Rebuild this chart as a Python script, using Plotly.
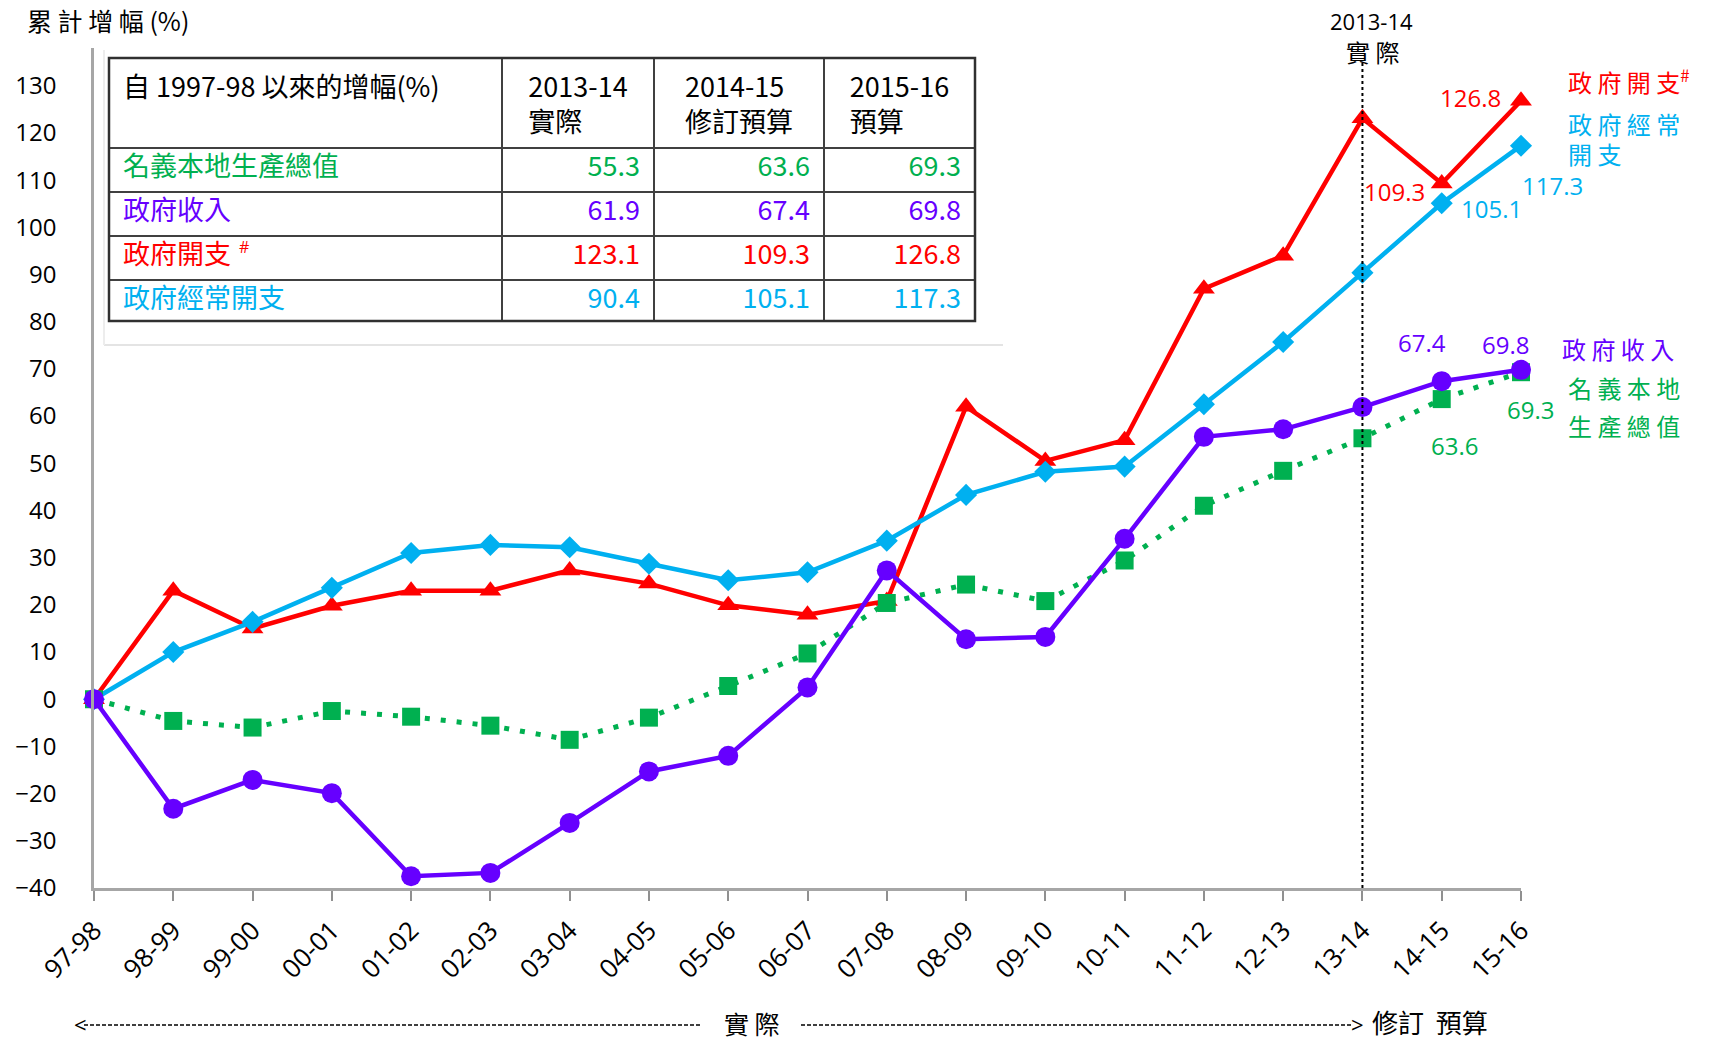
import plotly.graph_objects as go

years = ["97-98", "98-99", "99-00", "00-01", "01-02", "02-03", "03-04", "04-05", "05-06",
         "06-07", "07-08", "08-09", "09-10", "10-11", "11-12", "12-13", "13-14", "14-15", "15-16"]

gov_expenditure = [0, 23.0, 15.0, 19.8, 23.0, 23.0, 27.3, 24.5, 19.9, 17.9, 20.8, 62.0, 50.5,
                   54.9, 87.0, 94.0, 123.1, 109.3, 126.8]
gov_recurrent = [0, 10.0, 16.4, 23.6, 31.0, 32.7, 32.2, 28.7, 25.2, 26.9, 33.6, 43.3, 48.2,
                 49.3, 62.5, 75.7, 90.4, 105.1, 117.3]
gov_revenue = [0, -23.2, -17.1, -19.9, -37.5, -36.8, -26.2, -15.3, -12.0, 2.5, 27.3, 12.7, 13.2,
               34.0, 55.6, 57.2, 61.9, 67.4, 69.8]
nominal_gdp = [0, -4.6, -6.0, -2.5, -3.7, -5.6, -8.6, -3.9, 2.8, 9.7, 20.4, 24.3, 20.8,
               29.4, 41.0, 48.4, 55.3, 63.6, 69.3]

table_header = ["自 1997-98 以來的增幅(%)", "2013-14<br>實際", "2014-15<br>修訂預算", "2015-16<br>預算"]
table_rows = ["名義本地生產總值", "政府收入", "政府開支", "政府經常開支"]

RED = "#FF0000"
CYAN = "#00B0F0"
PURPLE = "#6600FF"
GREEN = "#00B050"
CJK = "Noto Sans CJK TC"
NUM = "Open Sans"

# the page's body margin is removed below, so positions are screen pixels
W, H = 1714, 1041
X0, X1 = 94, 1521      # screen x of plot area
Y0, Y1 = 48, 888       # screen y of plot area (top, bottom)
ML, MT = X0, Y0
MR, MB = W - X1, H - Y1
PW, PH = X1 - X0, Y1 - Y0


def px(x):
    return (x - X0) / PW


def py(y):
    return (Y1 - y) / PH


fig = go.Figure()

fig.add_trace(go.Scatter(x=years, y=gov_expenditure, mode="lines+markers", name="政府開支",
                         line=dict(color=RED, width=4.5),
                         marker=dict(symbol="triangle-up", size=19, color=RED), cliponaxis=False))
fig.add_trace(go.Scatter(x=years, y=gov_recurrent, mode="lines+markers", name="政府經常開支",
                         line=dict(color=CYAN, width=4.5),
                         marker=dict(symbol="diamond", size=17, color=CYAN), cliponaxis=False))
fig.add_trace(go.Scatter(x=years, y=nominal_gdp, mode="lines+markers", name="名義本地生產總值",
                         line=dict(color=GREEN, width=5, dash="5px,11px"),
                         marker=dict(symbol="square", size=18, color=GREEN), cliponaxis=False))
fig.add_trace(go.Scatter(x=years, y=gov_revenue, mode="lines+markers", name="政府收入",
                         line=dict(color=PURPLE, width=4.5),
                         marker=dict(symbol="circle", size=20, color=PURPLE), cliponaxis=False))

# table built from the last three values of each series
series_for_table = [nominal_gdp, gov_revenue, gov_expenditure, gov_recurrent]
row_colors = [GREEN, PURPLE, RED, CYAN]
cols = [[" " + r for r in table_rows]]
for k in (-3, -2, -1):
    cols.append([f"{s[k]:.1f} " for s in series_for_table])

TL, TR, TT, TB = 109, 975, 58, 321
fig.add_trace(go.Table(
    domain=dict(x=[px(TL), px(TR)], y=[py(TB), py(TT)]),
    columnwidth=[393, 152, 170, 151],
    header=dict(values=[" " + table_header[0] + "<br> "] + table_header[1:],
                align=["left", "center", "center", "center"],
                height=87, fill_color="white",
                line=dict(color="#404040", width=1.5),
                font=dict(family=CJK, size=27, color="black")),
    cells=dict(values=cols, align=["left", "right", "right", "right"],
               height=44, fill_color="white",
               line=dict(color="#404040", width=1.5),
               font=dict(family=CJK, size=27, color=[row_colors] * 4)),
))

shapes = [
    dict(type="rect", xref="paper", yref="paper", x0=px(TL), x1=px(TR), y0=py(TB), y1=py(TT),
         line=dict(color="#303030", width=2.5)),
    dict(type="line", xref="paper", yref="paper", x0=px(104), x1=px(1003), y0=py(345), y1=py(345),
         line=dict(color="#E4E4E4", width=2)),
    dict(type="line", xref="paper", yref="paper", x0=px(104), x1=px(104), y0=py(50), y1=py(345),
         line=dict(color="#EDEDED", width=2)),
    # vertical dotted line at 13-14
    dict(type="line", xref="x", yref="paper", x0=16, x1=16, y0=0, y1=py(60),
         line=dict(color="black", width=2, dash="dot")),
    # bottom dashed arrow
    dict(type="line", xref="paper", yref="paper", x0=px(84), x1=px(700), y0=py(1025), y1=py(1025),
         line=dict(color="black", width=1.5, dash="4px,2px")),
    dict(type="line", xref="paper", yref="paper", x0=px(801), x1=px(1352), y0=py(1025), y1=py(1025),
         line=dict(color="black", width=1.5, dash="4px,2px")),
]

ann = []


def add_text(x, y, text, color="black", size=22, family=CJK, xanchor="left", yanchor="middle"):
    ann.append(dict(x=px(x), y=py(y), xref="paper", yref="paper", text=text, showarrow=False,
                    font=dict(family=family, size=size, color=color), xanchor=xanchor, yanchor=yanchor))


add_text(25, 20, "累 計 增 幅 (%)", size=25)
add_text(1371, 21, "2013-14", size=22, family=NUM, xanchor="center")
add_text(1372, 52, "實 際", size=24, xanchor="center")
# superscript mark in the table's third row
add_text(237, 247, "#", color=RED, size=16, family=NUM)

# series names on the right
add_text(1566, 81, "政 府 開 支<sup>#</sup>", color=RED, size=24)
add_text(1566, 123, "政 府 經 常", color=CYAN, size=24)
add_text(1566, 153, "開 支", color=CYAN, size=24)
add_text(1560, 349, "政 府 收 入", color=PURPLE, size=24)
add_text(1566, 387, "名 義 本 地", color=GREEN, size=24)
add_text(1566, 426, "生 產 總 值", color=GREEN, size=24)

# bottom arrow
add_text(80, 1024, "<", size=22, family=NUM, xanchor="center")
add_text(1357, 1024, ">", size=22, family=NUM, xanchor="center")
add_text(752, 1023, "實 際", size=25, xanchor="center")
add_text(1370, 1022, "修訂  預算", size=26)

# data labels near last points
labels = [
    ("15-16", gov_expenditure[-1], RED, -51, 3),
    ("14-15", gov_expenditure[-2], RED, -47, -8),
    ("14-15", gov_recurrent[-2], CYAN, 50, -5),
    ("15-16", gov_recurrent[-1], CYAN, 31, -40),
    ("14-15", gov_revenue[-2], PURPLE, -20, 39),
    ("15-16", gov_revenue[-1], PURPLE, -16, 25),
    ("15-16", nominal_gdp[-1], GREEN, 9, -37),
    ("14-15", nominal_gdp[-2], GREEN, 13, -46),
]
for xc, v, c, dx, dy in labels:
    ann.append(dict(x=xc, y=v, xref="x", yref="y", text=f"{v:.1f}", showarrow=False,
                    xshift=dx, yshift=dy, font=dict(family=NUM, size=24, color=c)))

fig.update_layout(
    width=W, height=H,
    margin=dict(l=ML, r=MR, t=MT, b=MB),
    paper_bgcolor="white", plot_bgcolor="white",
    showlegend=False,
    shapes=shapes, annotations=ann,
    xaxis=dict(type="category", range=[0, 18], showgrid=False, zeroline=False,
               showline=True, linecolor="#A6A6A6", linewidth=2.5,
               ticks="outside", ticklen=10, tickwidth=1.5, tickcolor="#909090",
               tickangle=-45, ticklabelstandoff=4,
               tickfont=dict(family=NUM, size=26, color="black")),
    yaxis=dict(range=[-40, 138], tickvals=list(range(-40, 131, 10)),
               showgrid=False, zeroline=False,
               showline=True, linecolor="#A6A6A6", linewidth=2.5,
               ticks="", ticklabelstandoff=30,
               tickfont=dict(family=NUM, size=24, color="black")),
)

fig.write_html("out.html", config={"displayModeBar": False},
               post_script="document.body.style.margin='0px';document.body.style.overflow='hidden';")
